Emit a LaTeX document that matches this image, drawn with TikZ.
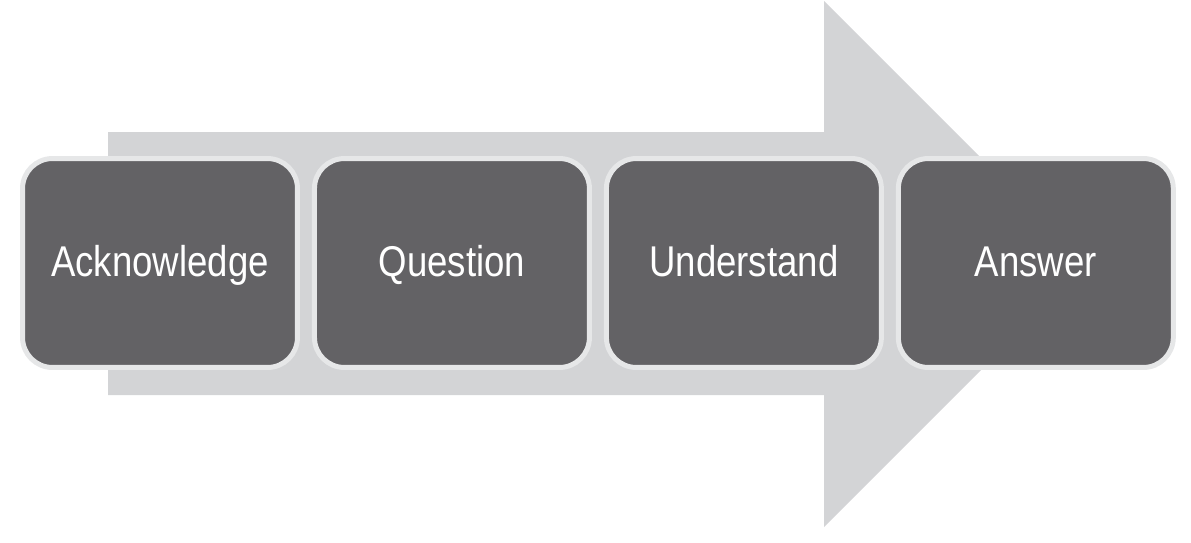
\documentclass[tikz,border=0pt]{standalone}
\usepackage{fontspec}
\usepackage{tikz}
\usetikzlibrary{positioning}
\newfontfamily\stepfont[FakeStretch=0.85]{Liberation Sans}
\definecolor{arrowgray}{RGB}{211,212,214}
\definecolor{stepgray}{RGB}{99,98,101}
\definecolor{rimgray}{RGB}{230,231,232}

\begin{document}
\begin{tikzpicture}[x=0.02cm,y=-0.02cm,
  stepbox/.style={draw=rimgray,fill=stepgray,line width=0.1cm,rounded corners=0.6cm,
                  minimum width=5.5cm,minimum height=4.18cm,text=white,
                  text height=18pt,text depth=2.2pt,
                  font=\stepfont\fontsize{24.5}{29}\selectfont}
]
\useasboundingbox (0,0) rectangle (1191,542);

% Big arrow behind the steps
\fill[arrowgray] (108,132) -- (824,132) -- (824,1) -- (1087,264)
  -- (824,527) -- (824,395) -- (108,395) -- cycle;

% Steps
\node[stepbox] (ack) at (160,263) {Acknowledge};
\node[stepbox,right=0.24cm of ack] (quest) {Question};
\node[stepbox,right=0.24cm of quest] (under) {Understand};
\node[stepbox,right=0.24cm of under] (answ) {Answer};

\end{tikzpicture}
\end{document}
